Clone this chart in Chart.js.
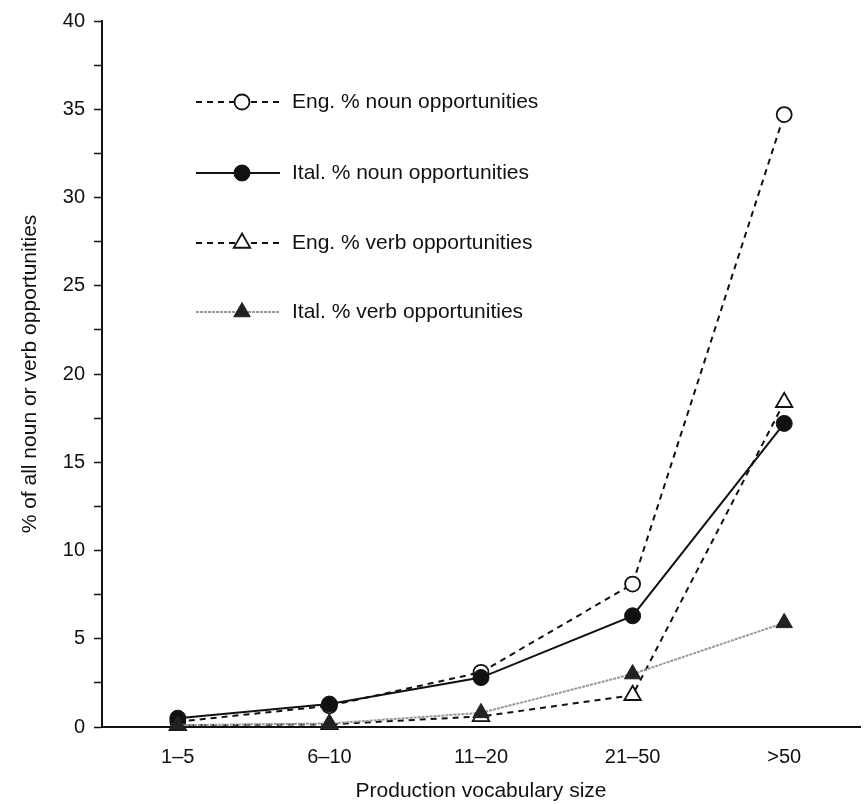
<!DOCTYPE html>
<html>
<head>
<meta charset="utf-8">
<script src="https://cdn.jsdelivr.net/npm/chart.js@4/dist/chart.umd.min.js"></script>
<style>
html,body{margin:0;padding:0;background:#fff;}
#wrap{width:865px;height:804px;}
</style>
</head>
<body>
<div id="wrap"><canvas id="c" width="865" height="804"></canvas></div>
<script>
const categories = ['1–5', '6–10', '11–20', '21–50', '>50'];
const engNoun = [0.3, 1.2, 3.1, 8.1, 34.7];
const italNoun = [0.5, 1.3, 2.8, 6.3, 17.2];
const engVerb = [0.1, 0.15, 0.6, 1.8, 18.4];
const italVerb = [0.1, 0.2, 0.8, 3.0, 5.9];
const seriesLabels = ['Eng. % noun opportunities', 'Ital. % noun opportunities', 'Eng. % verb opportunities', 'Ital. % verb opportunities'];
const yTitle = '% of all noun or verb opportunities';
const xTitle = 'Production vocabulary size';

const FONT = 'Liberation Sans, Arial, sans-serif';

const legendPlugin = {
  id: 'customLegend',
  afterDraw(chart) {
    const ctx = chart.ctx;
    const rows = [102, 173, 243, 312];
    chart.data.datasets.forEach((ds, i) => {
      const y = rows[i];
      ctx.save();
      ctx.strokeStyle = ds.borderColor;
      ctx.lineWidth = ds.borderWidth;
      ctx.setLineDash(ds.borderDash || []);
      ctx.beginPath();
      ctx.moveTo(196, y);
      ctx.lineTo(280, y);
      ctx.stroke();
      ctx.setLineDash([]);
      ctx.fillStyle = ds.pointBackgroundColor;
      ctx.strokeStyle = ds.pointBorderColor;
      ctx.lineWidth = ds.pointBorderWidth;
      Chart.helpers.drawPoint(ctx, {
        pointStyle: ds.pointStyle,
        radius: ds.pointRadius,
        borderWidth: ds.pointBorderWidth,
        rotation: 0
      }, 242, y);
      ctx.fillStyle = '#111';
      ctx.font = '21px ' + FONT;
      ctx.textBaseline = 'middle';
      ctx.textAlign = 'left';
      ctx.fillText(ds.label, 292, y);
      ctx.restore();
    });
  }
};

new Chart(document.getElementById('c'), {
  type: 'line',
  data: {
    labels: categories,
    datasets: [
      {
        label: seriesLabels[0], data: engNoun,
        borderColor: '#111', borderWidth: 2, borderDash: [6, 5],
        pointStyle: 'circle', pointRadius: 7.5, pointBorderWidth: 1.8,
        pointBackgroundColor: '#fff', pointBorderColor: '#111', order: 2
      },
      {
        label: seriesLabels[1], data: italNoun,
        borderColor: '#111', borderWidth: 2, borderDash: [],
        pointStyle: 'circle', pointRadius: 8, pointBorderWidth: 1,
        pointBackgroundColor: '#111', pointBorderColor: '#111', order: 1
      },
      {
        label: seriesLabels[2], data: engVerb,
        borderColor: '#111', borderWidth: 2, borderDash: [6, 5],
        pointStyle: 'triangle', pointRadius: 9.5, pointBorderWidth: 1.8,
        pointBackgroundColor: '#fff', pointBorderColor: '#111', order: 3
      },
      {
        label: seriesLabels[3], data: italVerb,
        borderColor: '#999999', borderWidth: 2, borderDash: [3, 1],
        pointStyle: 'triangle', pointRadius: 9.5, pointBorderWidth: 1,
        pointBackgroundColor: '#222', pointBorderColor: '#222', order: 0
      }
    ]
  },
  options: {
    responsive: false,
    animation: false,
    clip: false,
    layout: { autoPadding: false, padding: { top: 16, right: 5, left: 18, bottom: 0 } },
    plugins: { legend: { display: false }, tooltip: { enabled: false } },
    scales: {
      x: {
        offset: true,
        grid: { display: false, drawOnChartArea: false, drawTicks: true, tickLength: 8, offset: false, color: '#111', tickWidth: 1.5 },
        border: { display: true, color: '#111', width: 2 },
        ticks: { color: '#111', font: { size: 20, family: FONT }, padding: 10, maxRotation: 0 },
        title: { display: true, text: xTitle, color: '#111', font: { size: 21, family: FONT }, padding: { top: 10, bottom: 0 } },
        afterFit(scale) { scale.height = 804 - 727; }
      },
      y: {
        min: 0, max: 40,
        grid: { drawOnChartArea: false, drawTicks: true, tickLength: 8, color: '#111', tickWidth: 1.5 },
        border: { display: true, color: '#111', width: 2 },
        ticks: {
          stepSize: 2.5, color: '#111', font: { size: 20, family: FONT }, padding: 9,
          callback: (v) => (v % 5 === 0 ? String(v) : '')
        },
        title: { display: true, text: yTitle, color: '#111', font: { size: 21, family: FONT }, padding: { top: 0, bottom: 4 } },
        afterFit(scale) { scale.width = 102 - 18; }
      }
    }
  },
  plugins: [legendPlugin]
});
</script>
</body>
</html>
